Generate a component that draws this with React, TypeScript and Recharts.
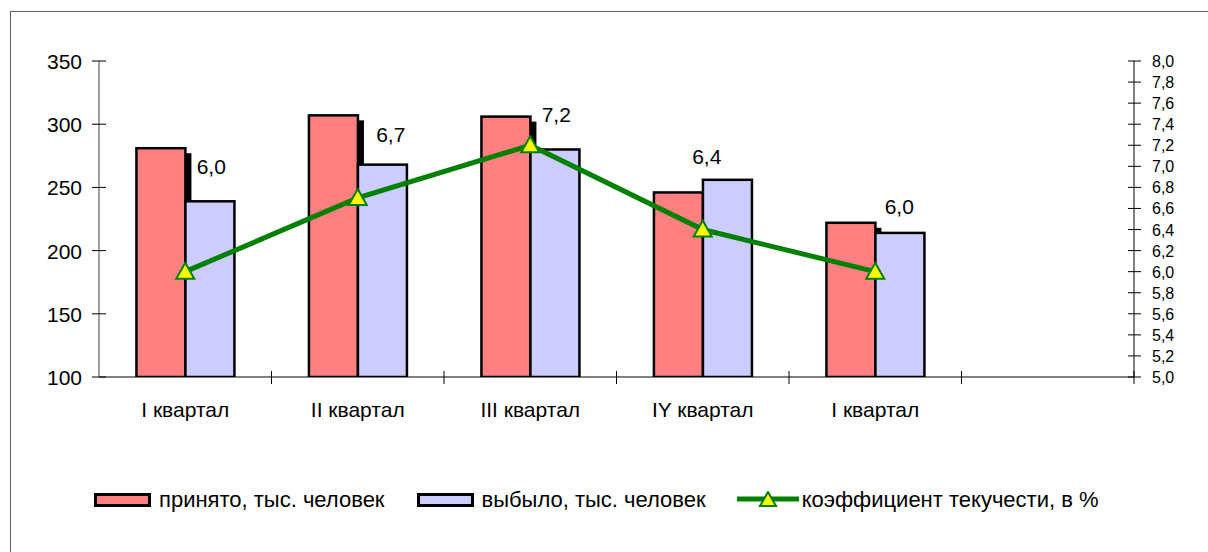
import React from 'react';
import {
  ComposedChart,
  Bar,
  Line,
  XAxis,
  YAxis,
  Legend,
  LabelList,
} from 'recharts';

const QUARTERS = ['I квартал', 'II квартал', 'III квартал', 'IY квартал', 'I квартал', ''];
const HIRED = [281, 307, 306, 246, 222];
const LEFT = [239, 268, 280, 256, 214];
const TURNOVER = [6.0, 6.7, 7.2, 6.4, 6.0];

const LEFT_TICKS = [100, 150, 200, 250, 300, 350];
const RIGHT_TICKS = [5.0, 5.2, 5.4, 5.6, 5.8, 6.0, 6.2, 6.4, 6.6, 6.8, 7.0, 7.2, 7.4, 7.6, 7.8, 8.0];

// labels were dragged by hand in the original, so keep their shifts apart
const LABEL_SHIFT = [
  [26, -106],
  [33, -64],
  [26, -31],
  [4, -74],
  [24, -66],
];

const NAMES = {
  hired: 'принято, тыс. человек',
  left: 'выбыло, тыс. человек',
  rate: 'коэффициент текучести, в %',
};

const PINK = '#FF8080';
const LILAC = '#CCCCFF';
const GREEN = '#008000';
const FONT = "Arial, 'Liberation Sans', sans-serif";

const chartData = QUARTERS.map((name, i) => ({
  name,
  hired: HIRED[i],
  left: LEFT[i],
  rate: TURNOVER[i],
}));

const fmt = (v: number) => v.toFixed(1).replace('.', ',');

const LeftTick = (props: any) => {
  const { x, y, payload } = props;
  return (
    <g>
      <line x1={x - 7} x2={x + 7} y1={y} y2={y} stroke="#000" strokeWidth={1} />
      <text x={x - 17} y={y} dy={8} textAnchor="end" fontSize={21} fontFamily={FONT} fill="#000">
        {payload.value}
      </text>
    </g>
  );
};

const RightTick = (props: any) => {
  const { x, y, payload } = props;
  return (
    <g>
      <line x1={x - 6} x2={x + 7} y1={y} y2={y} stroke="#000" strokeWidth={1} />
      <text x={x + 18} y={y} dy={6} textAnchor="start" fontSize={16} fontFamily={FONT} fill="#000">
        {fmt(payload.value)}
      </text>
    </g>
  );
};

const CategoryTick = (props: any) => {
  const { x, y, payload } = props;
  const half = payload.offset || 0;
  return (
    <g>
      <line x1={x + half} x2={x + half} y1={y - 6} y2={y + 7} stroke="#000" strokeWidth={1} />
      <text x={x} y={y + 33} dy={7} textAnchor="middle" fontSize={21} fontFamily={FONT} fill="#000">
        {payload.value}
      </text>
    </g>
  );
};

const ShadowBar = (props: any) => {
  const { x, y, width, height, fill } = props;
  if (!height || height <= 0) return null;
  return (
    <g>
      <rect x={x + 6} y={y + 5} width={width} height={Math.max(0, height - 5)} fill="#000" />
      <rect x={x} y={y} width={width} height={height} fill={fill} stroke="#000" strokeWidth={2.5} />
    </g>
  );
};

const PlainBar = (props: any) => {
  const { x, y, width, height, fill } = props;
  if (!height || height <= 0) return null;
  return <rect x={x} y={y} width={width} height={height} fill={fill} stroke="#000" strokeWidth={2.5} />;
};

const Triangle = (props: any) => {
  const { cx, cy } = props;
  if (cx == null || cy == null) return null;
  return (
    <polygon
      points={`${cx},${cy - 9} ${cx + 9},${cy + 7} ${cx - 9},${cy + 7}`}
      fill="#FFFF00"
      stroke={GREEN}
      strokeWidth={2}
    />
  );
};

const RateLabel = (props: any) => {
  const { x, y, value, index } = props;
  if (value == null) return null;
  const [dx, dy] = LABEL_SHIFT[index] || [0, -20];
  return (
    <text x={x + dx} y={y + dy} dy={8} textAnchor="middle" fontSize={21} fontFamily={FONT} fill="#000">
      {fmt(value)}
    </text>
  );
};

const Swatch = ({ color }: { color: string }) => (
  <span
    style={{
      display: 'inline-block',
      width: 51,
      height: 8,
      background: color,
      border: '3px solid #000',
      marginRight: 8,
    }}
  />
);

const LegendBox = () => (
  <div
    style={{
      display: 'flex',
      alignItems: 'center',
      fontFamily: FONT,
      fontSize: 22,
      color: '#000',
      paddingLeft: 94,
      whiteSpace: 'nowrap',
    }}
  >
    <Swatch color={PINK} />
    <span style={{ marginRight: 32 }}>{NAMES.hired}</span>
    <Swatch color={LILAC} />
    <span style={{ marginRight: 31 }}>{NAMES.left}</span>
    <svg width={62} height={18} style={{ marginRight: 3 }}>
      <line x1={0} x2={62} y1={8} y2={8} stroke={GREEN} strokeWidth={5} />
      <polygon points="31,1 39,15 23,15" fill="#FFFF00" stroke={GREEN} strokeWidth={2} />
    </svg>
    <span>{NAMES.rate}</span>
  </div>
);

export default function App() {
  return (
    <div
      style={{
        position: 'absolute',
        left: 0,
        top: 0,
        width: 1208,
        height: 552,
        overflow: 'hidden',
        background: '#fff',
      }}
    >
      <div
        style={{
          position: 'absolute',
          left: 10,
          top: 11,
          width: 1300,
          height: 700,
          borderLeft: '1.5px solid #606060',
          borderTop: '1.5px solid #606060',
        }}
      />
      <ComposedChart
        width={1208}
        height={552}
        data={chartData}
        margin={{ top: 61, right: 0, bottom: 145, left: 0 }}
        barCategoryGap="21.7%"
        barGap={0}
        style={{ position: 'absolute', left: 0, top: 0 }}
      >
        <XAxis
          dataKey="name"
          height={30}
          tickLine={false}
          tickSize={0}
          tickMargin={0}
          axisLine={{ stroke: '#000', strokeWidth: 1 }}
          tick={<CategoryTick />}
          interval={0}
        />
        <YAxis
          yAxisId="left"
          width={99}
          domain={[100, 350]}
          ticks={LEFT_TICKS}
          tickLine={false}
          tickSize={0}
          tickMargin={0}
          axisLine={{ stroke: '#808080', strokeWidth: 1.5 }}
          tick={<LeftTick />}
          allowDataOverflow
        />
        <YAxis
          yAxisId="right"
          orientation="right"
          width={74}
          domain={[5, 8]}
          ticks={RIGHT_TICKS}
          tickLine={false}
          tickSize={0}
          tickMargin={0}
          axisLine={{ stroke: '#000', strokeWidth: 1 }}
          tick={<RightTick />}
          interval={0}
          allowDataOverflow
        />
        <Legend
          verticalAlign="middle"
          align="center"
          layout="horizontal"
          wrapperStyle={{ top: 487, left: 0, width: 1208 }}
          content={() => <LegendBox />}
        />
        <Bar
          yAxisId="left"
          dataKey="hired"
          name={NAMES.hired}
          fill={PINK}
          shape={<ShadowBar />}
          isAnimationActive={false}
        />
        <Bar
          yAxisId="left"
          dataKey="left"
          name={NAMES.left}
          fill={LILAC}
          shape={<PlainBar />}
          isAnimationActive={false}
        />
        <Line
          yAxisId="right"
          dataKey="rate"
          name={NAMES.rate}
          stroke={GREEN}
          strokeWidth={5}
          dot={<Triangle />}
          activeDot={false}
          isAnimationActive={false}
        >
          <LabelList dataKey="rate" content={<RateLabel />} />
        </Line>
      </ComposedChart>
    </div>
  );
}
